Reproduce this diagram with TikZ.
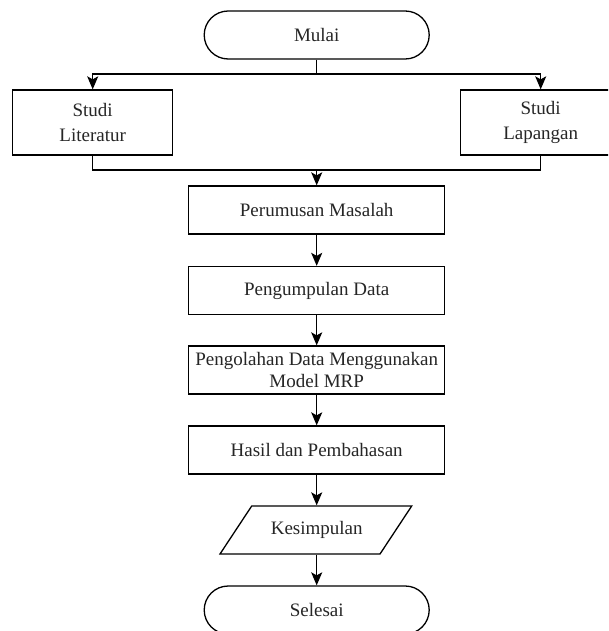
\documentclass[tikz,border=0pt]{standalone}
\usepackage{fontspec}
\setmainfont{Liberation Serif}
\usetikzlibrary{arrows.meta}
\begin{document}
\begin{tikzpicture}[x=1pt,y=-1pt,line width=1.3pt,
  arr/.style={-{Stealth[width=11pt,length=13pt,inset=3pt]}},
  txt/.style={font=\fontsize{19}{22}\selectfont, text=black!85, align=center, inner sep=0pt},
  term/.style={txt, draw, rounded corners=24pt, minimum width=225pt, minimum height=48pt},
  box/.style={txt, draw, minimum width=256pt, minimum height=48pt},
  sbox/.style={txt, draw, minimum width=160pt, minimum height=65pt, font=\fontsize{19}{25}\selectfont}]
\clip (0,0) rectangle (608,631);
\fill[white] (0,0) rectangle (608,631);
\node[term] (mulai) at (316.7,35) {Mulai};
\node[sbox] (lit) at (92.7,122.5) {Studi\\Literatur};
\node[sbox] (lap) at (540.7,122.5) {Studi\\Lapangan};
\node[box] (rumus) at (316.7,210) {Perumusan Masalah};
\node[box] (kumpul) at (316.7,290.5) {Pengumpulan Data};
\node[box] (olah) at (316.7,370) {Pengolahan Data Menggunakan\\Model MRP};
\node[box] (hasil) at (316.7,450) {Hasil dan Pembahasan};
\draw (220,554) -- (251.7,506) -- (411.7,506) -- (380,554) -- cycle;
\node[txt, minimum width=160pt, minimum height=48pt] (kes) at (316.7,530) {Kesimpulan};
\node[term] (selesai) at (316.7,610) {Selesai};
\coordinate (b) at (316.7,74);
\coordinate (m) at (316.7,170);
\draw (mulai.south) -- (b);
\draw[arr] (b) -| (lit.north);
\draw[arr] (b) -| (lap.north);
\draw (lit.south) |- (m);
\draw (lap.south) |- (m);
\draw[arr] (m) -- (rumus.north);
\draw[arr] (rumus) -- (kumpul);
\draw[arr] (kumpul) -- (olah);
\draw[arr] (olah) -- (hasil);
\draw[arr] (hasil) -- (kes);
\draw[arr] (kes) -- (selesai);
\end{tikzpicture}
\end{document}
